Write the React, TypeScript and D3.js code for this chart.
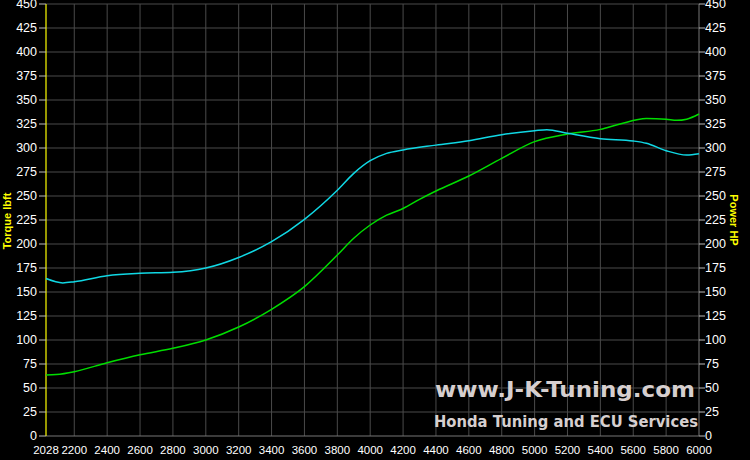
import React from "react";
import * as d3 from "d3";

const xTicks = [2028, 2200, 2400, 2600, 2800, 3000, 3200, 3400, 3600, 3800, 4000, 4200, 4400, 4600, 4800, 5000, 5200, 5400, 5600, 5800, 6000];
const yTicks = d3.range(0, 451, 25);

const torqueRpm = [2028, 2130, 2200, 2400, 2600, 2800, 3000, 3200, 3400, 3600, 3800, 3900, 4000, 4100, 4200, 4400, 4600, 4800, 5000, 5075, 5200, 5400, 5600, 5680, 5800, 5925, 6000];
const torqueVal = [164, 159.5, 160.7, 167, 169.5, 170.5, 175, 186, 202.4, 225.7, 256, 273.6, 286.8, 294.4, 298, 303, 307.6, 313.9, 318, 319.1, 315.3, 309.7, 307.3, 304.9, 297.2, 292.7, 294];

const powerRpm = [2028, 2090, 2200, 2400, 2600, 2800, 3000, 3200, 3400, 3600, 3800, 3900, 4000, 4100, 4200, 4300, 4400, 4600, 4800, 5000, 5200, 5400, 5520, 5680, 5800, 5865, 5925, 6000];
const powerVal = [63.5, 64, 67, 76.4, 84.7, 91.3, 100, 113.5, 132, 155.6, 188.5, 206, 219.8, 230, 237, 246.5, 255.2, 270.8, 289.2, 306.6, 314.6, 319.4, 325, 330.6, 329.9, 328.8, 330, 335.4];

const W = 750, H = 460;
const L = 46, R = 699, T = 4, B = 436;

export default function App() {
  const x = d3.scaleLinear().domain([2028, 6000]).range([L, R]);
  const y = d3.scaleLinear().domain([0, 450]).range([B, T]);
  const line = d3.line<[number, number]>().x(d => x(d[0])).y(d => y(d[1])).curve(d3.curveMonotoneX);
  const tq = torqueRpm.map((r, i) => [r, torqueVal[i]] as [number, number]);
  const pw = powerRpm.map((r, i) => [r, powerVal[i]] as [number, number]);
  const font = "'Liberation Sans', Arial, sans-serif";
  return (
    <svg width={W} height={H} style={{ position: "absolute", left: 0, top: 0, background: "#000" }}>
      <rect x={0} y={0} width={W} height={H} fill="#000" />
      {yTicks.filter(v => v > 0).map(v => (
        <line key={"hy" + v} x1={L} x2={R} y1={y(v)} y2={y(v)} stroke="#4a4a4a" strokeWidth={1} />
      ))}
      {xTicks.filter(v => v > 2028 && v < 6000).map(v => (
        <line key={"gx" + v} x1={x(v)} x2={x(v)} y1={T} y2={B} stroke="#4a4a4a" strokeWidth={1} />
      ))}
      <text x={435} y={397} fill="#d6cfcf" fontFamily="'DejaVu Sans', sans-serif" fontWeight="bold" fontSize={22} textLength={260} lengthAdjust="spacingAndGlyphs">www.J-K-Tuning.com</text>
      <text x={434} y={427} fill="#d6cfcf" fontFamily="'DejaVu Sans', sans-serif" fontWeight="bold" fontSize={16} textLength={264} lengthAdjust="spacingAndGlyphs">Honda Tuning and ECU Services</text>
      <line x1={L} x2={R} y1={B} y2={B} stroke="#777" strokeWidth={1} />
      <line x1={R} x2={R} y1={T} y2={B} stroke="#777" strokeWidth={1} />
      <line x1={L} x2={L} y1={T} y2={B} stroke="#ffff00" strokeWidth={1.2} />
      {yTicks.map(v => (
        <g key={"ty" + v}>
          <line x1={39} x2={L} y1={y(v)} y2={y(v)} stroke="#bbb" />
          <text x={37} y={y(v)} dy="0.35em" textAnchor="end" fill="#fff" fontFamily={font} fontSize={12.5}>{v}</text>
          <line x1={R} x2={705} y1={y(v)} y2={y(v)} stroke="#bbb" />
          <text x={705} y={y(v)} dy="0.35em" textAnchor="start" fill="#fff" fontFamily={font} fontSize={12.5}>{v}</text>
        </g>
      ))}
      {xTicks.map(v => (
        <text key={"tx" + v} x={x(v)} y={454} textAnchor="middle" fill="#fff" fontFamily={font} fontSize={11.5}>{v}</text>
      ))}
      <text transform={`translate(11,221) rotate(-90)`} textAnchor="middle" fill="#ffff00" fontFamily={font} fontWeight="bold" fontSize={11}>Torque lbft</text>
      <text transform={`translate(730,220) rotate(90)`} textAnchor="middle" fill="#ffff00" fontFamily={font} fontWeight="bold" fontSize={11}>Power HP</text>
      <path d={line(pw) || ""} fill="none" stroke="#00dd00" strokeWidth={1.5} />
      <path d={line(tq) || ""} fill="none" stroke="#10d8e4" strokeWidth={1.5} />
    </svg>
  );
}
